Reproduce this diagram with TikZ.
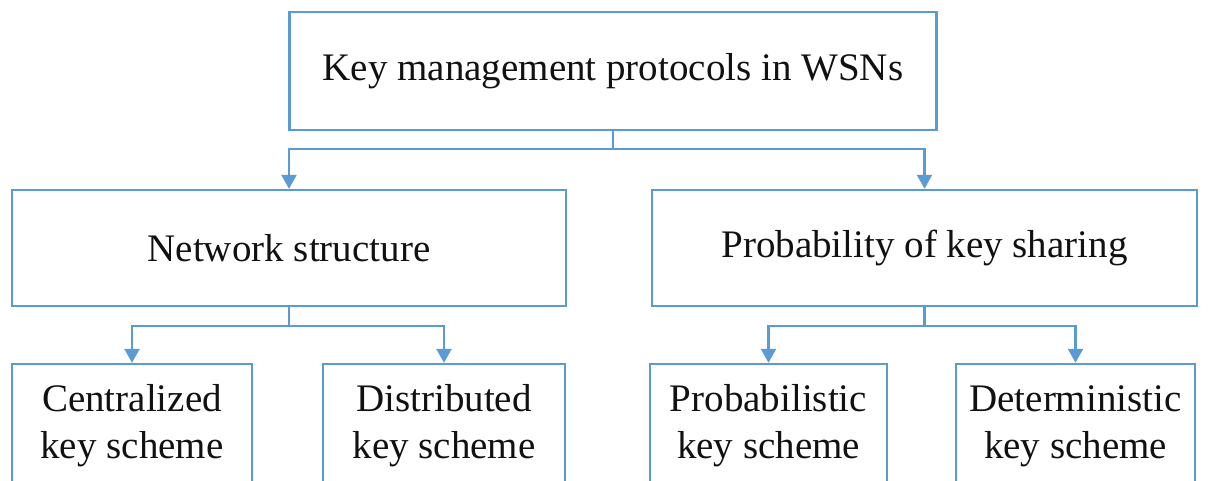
\documentclass[tikz,border=0pt]{standalone}
\usepackage{fontspec}
\setmainfont{Liberation Serif}
\usetikzlibrary{arrows.meta}
\definecolor{lblue}{HTML}{5B9BD5}
\definecolor{txt}{HTML}{111111}
\begin{document}
\begin{tikzpicture}[x=1pt,y=-1pt,
 box/.style={draw=lblue,line width=2.4pt,rectangle,inner sep=0pt,align=center,text=txt,font=\fontsize{39}{47}\selectfont},
 conn/.style={draw=lblue,line width=2.4pt},
 arr/.style={conn,-{Triangle[length=14pt,width=15pt]}}]
\useasboundingbox (0,0) rectangle (1212,481);
\clip (0,0) rectangle (1212,481);
\node[box,minimum width=647,minimum height=118] (top) at (613,71) {Key management protocols in WSNs};
\node[box,minimum width=554,minimum height=116] (ns) at (289,248) {Network structure};
\node[box,minimum width=545,minimum height=116] (pk) at (924.5,248) {Probability of key sharing};
\node[box,minimum width=240,minimum height=124] (c) at (132,426) {Centralized\\key scheme};
\node[box,minimum width=242,minimum height=124] (d) at (444,426) {Distributed\\key scheme};
\node[box,minimum width=237,minimum height=124] (p) at (768.5,426) {Probabilistic\\key scheme};
\node[box,minimum width=239,minimum height=124] (e) at (1075.5,426) {Deterministic\\key scheme};
\draw[conn] (top.south) -- ++(0,18) coordinate (j1);
\draw[arr] (j1) -| (ns.north);
\draw[arr] (j1) -| (pk.north);
\draw[conn] (ns.south) -- ++(0,19) coordinate (j2);
\draw[arr] (j2) -| (c.north);
\draw[arr] (j2) -| (d.north);
\draw[conn] (pk.south) -- ++(0,19) coordinate (j3);
\draw[arr] (j3) -| (p.north);
\draw[arr] (j3) -| (e.north);
\end{tikzpicture}
\end{document}
